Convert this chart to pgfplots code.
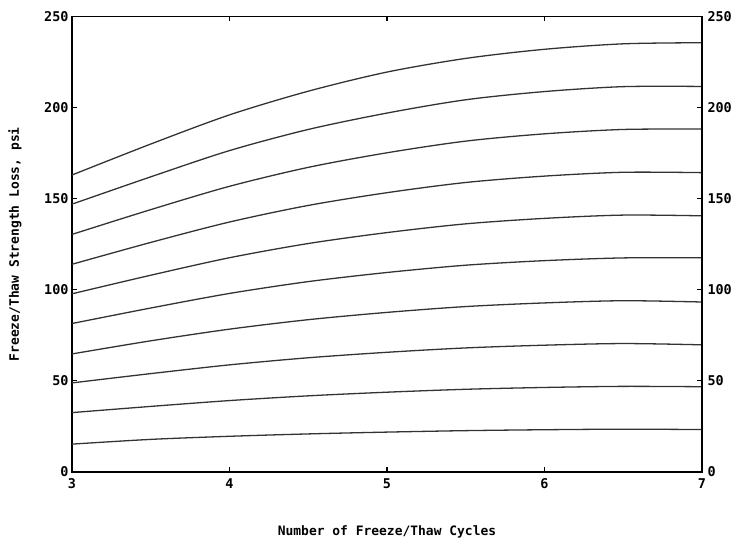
\documentclass[border=0pt]{standalone}
\usepackage{fontspec}
\setmainfont{DejaVu Sans Mono}
\usepackage{pgfplots}
\pgfplotsset{compat=1.18}
\usetikzlibrary{calc}
\pgfplotstableread{
x c1 c2 c3 c4 c5 c6 c7 c8 c9 c10
3.0 15.3 32.6 48.9 64.8 81.5 97.8 114.0 130.4 147.0 163.0
3.5 17.9 36.0 54.0 72.0 90.0 108.0 126.0 144.0 162.0 180.0
4.0 19.6 39.2 58.8 78.4 98.0 117.6 137.2 156.8 176.4 196.0
4.5 20.9 41.8 62.7 83.6 104.5 125.4 146.3 167.2 188.0 209.0
5.0 21.9 43.8 65.7 87.6 109.5 131.4 153.3 175.2 197.0 219.5
5.5 22.7 45.4 68.1 90.8 113.5 136.2 158.9 181.6 204.3 227.0
6.0 23.2 46.4 69.6 92.8 116.0 139.2 162.4 185.6 208.8 232.0
6.5 23.5 47.0 70.5 94.0 117.5 141.0 164.5 188.0 211.5 235.0
7.0 23.3 46.8 69.8 93.3 117.6 140.6 164.3 188.2 211.6 235.6
}\curves
\begin{document}
\begin{tikzpicture}
\begin{axis}[
  scale only axis,
  width=630bp, height=455.5bp,
  xmin=3, xmax=7, ymin=0, ymax=250,
  xtick={3,4,5,6,7},
  ytick={0,50,100,150,200,250},
  tick align=inside,
  major tick length=5bp,
  xtick pos=both, ytick pos=both,
  yticklabel pos=left,
  axis line style={line width=1.4pt},
  tick style={line width=1.1pt, black},
  ticklabel style={font=\fontsize{13.5}{13.5}\bfseries},
  /pgf/number format/assume math mode=true,
  xticklabel style={yshift=-3bp},
  xlabel={Number of Freeze/Thaw Cycles},
  ylabel={Freeze/Thaw Strength Loss, psi},
  xlabel style={font=\fontsize{13}{13}\bfseries, at={(axis description cs:0.5,0)}, anchor=center, yshift=-60bp},
  ylabel style={font=\fontsize{13}{13}\bfseries, at={(axis description cs:0,0.5)}, anchor=center, rotate=0, yshift=57bp},
  clip=false,
]
\foreach \c in {c1,c2,c3,c4,c5,c6,c7,c8,c9,c10}{
  \addplot[black!80, line width=1.3pt, smooth, no marks] table[x=x, y=\c] {\curves};
}
\end{axis}
\begin{axis}[
  scale only axis,
  width=630bp, height=455.5bp,
  xmin=3, xmax=7, ymin=0, ymax=250,
  axis y line*=right, axis x line=none,
  ytick={0,50,100,150,200,250},
  tick align=inside,
  major tick length=5bp,
  axis line style={line width=1.4pt},
  tick style={line width=1.1pt, black},
  ticklabel style={font=\fontsize{13.5}{13.5}\bfseries},
  /pgf/number format/assume math mode=true,
  yticklabel style={xshift=2bp},
]
\end{axis}
\useasboundingbox ($(current axis.south west)+(-72bp,-74bp)$) rectangle ($(current axis.north east)+(34bp,16.5bp)$);
\end{tikzpicture}
\end{document}
